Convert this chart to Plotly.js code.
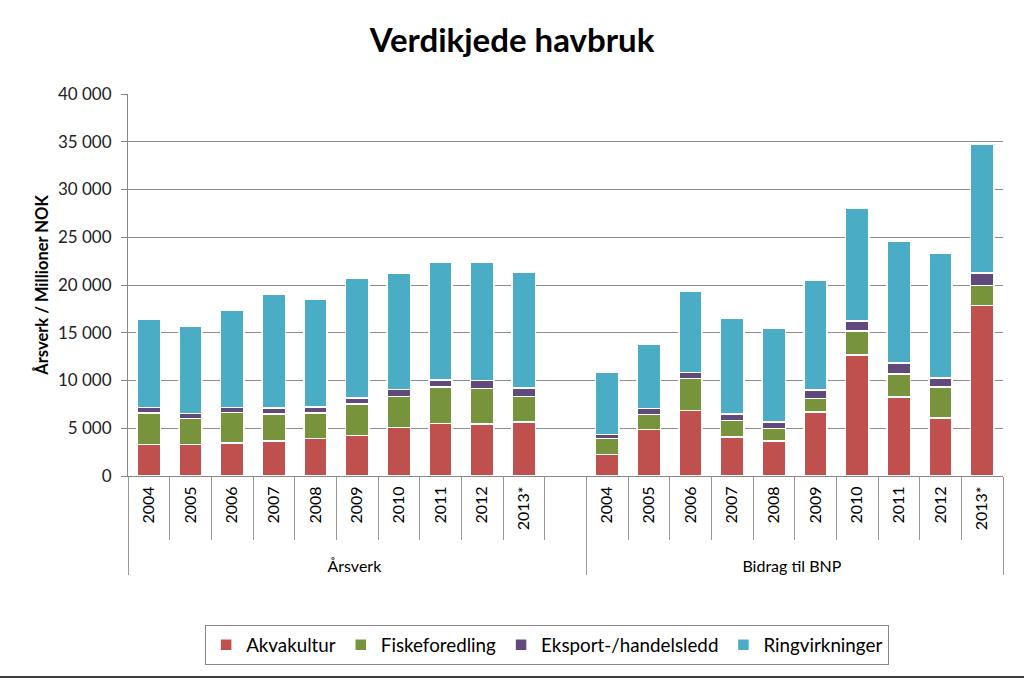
<!DOCTYPE html>
<html>
<head>
<meta charset="utf-8">
<script src="https://cdn.plot.ly/plotly-3.0.1.min.js"></script>
<style>html,body{margin:0;padding:0;background:#fff;}#chart{width:1024px;height:682px;}</style>
</head>
<body>
<div id="chart"></div>
<script>
const groups = ['Årsverk', 'Bidrag til BNP'];
const years = ['2004', '2005', '2006', '2007', '2008', '2009', '2010', '2011', '2012', '2013*'];
const gapLabel = '\u00a0'.repeat(14);
const seriesNames = ['Akvakultur', 'Fiskeforedling', 'Eksport-/handelsledd', 'Ringvirkninger'];
const seriesColors = ['#C0504D', '#77933C', '#604A7B', '#4BACC6'];

// Årsverk
const akvaA = [3290, 3290, 3430, 3640, 3920, 4230, 5100, 5520, 5420, 5630];
const fiskA = [3310, 2720, 3210, 2860, 2680, 3290, 3220, 3780, 3740, 2690];
const eksA  = [570, 530, 530, 630, 640, 660, 740, 730, 840, 880];
const ringA = [9260, 9090, 10170, 11890, 11290, 12520, 12160, 12380, 12410, 12130];
// Bidrag til BNP
const akvaB = [2270, 4860, 6850, 4090, 3670, 6710, 12690, 8250, 6080, 17830];
const fiskB = [1680, 1570, 3360, 1710, 1330, 1400, 2480, 2450, 3260, 2140];
const eksB  = [420, 630, 630, 700, 660, 880, 1050, 1120, 940, 1290];
const ringB = [6540, 6720, 8500, 10040, 9790, 11460, 11780, 12730, 13040, 13530];

const outer = [...years.map(() => groups[0]), groups[0], ...years.map(() => groups[1])];
const inner = [...years, gapLabel, ...years];
const seriesA = [akvaA, fiskA, eksA, ringA];
const seriesB = [akvaB, fiskB, eksB, ringB];

const FONT = 'Lato, "Open Sans", sans-serif';

const traces = seriesNames.map((name, i) => ({
  type: 'bar',
  name: name,
  x: [outer, inner],
  y: [...seriesA[i], null, ...seriesB[i]],
  marker: {color: seriesColors[i], line: {color: '#ffffff', width: 1.5}},
  hoverinfo: 'x+y+name'
}));

const layout = {
  width: 1024, height: 682,
  margin: {l: 128, r: 21, t: 94, b: 206},
  paper_bgcolor: '#ffffff', plot_bgcolor: '#ffffff',
  barmode: 'stack',
  bargap: 0.44,
  separators: ', ',
  font: {family: FONT, color: '#000'},
  title: {
    text: '<b>Verdikjede havbruk</b>',
    font: {family: FONT, size: 33, color: '#000'},
    x: 0.5, xanchor: 'center', y: 1 - 40/682, yanchor: 'middle'
  },
  xaxis: {
    type: 'multicategory',
    tickson: 'boundaries',
    ticks: 'outside', ticklen: 63, tickcolor: '#999', tickwidth: 1,
    tickangle: -90,
    ticklabelstandoff: 3,
    tickfont: {family: FONT, size: 16, color: '#000'},
    showline: true, linecolor: '#888', linewidth: 1,
    showdividers: true, dividercolor: '#999', dividerwidth: 1,
    showgrid: false, zeroline: false
  },
  yaxis: {
    range: [0, 40000], dtick: 5000, tick0: 0,
    tickformat: ',d',
    showgrid: true, gridcolor: '#8c8c8c', gridwidth: 1,
    showline: true, linecolor: '#888', linewidth: 1,
    ticks: 'outside', ticklen: 6, tickcolor: '#888',
    ticklabelstandoff: 6,
    tickfont: {family: FONT, size: 17, color: '#222'},
    zeroline: false,
    title: {text: '<b>Årsverk / Millioner NOK</b>', font: {family: FONT, size: 16.5, color: '#000'}, standoff: 5}
  },
  legend: {
    orientation: 'h', traceorder: 'normal',
    x: 0.479, xanchor: 'center', y: -0.39, yanchor: 'top',
    bordercolor: '#888', borderwidth: 1,
    font: {family: FONT, size: 18.8, color: '#000'},
    itemwidth: 30
  },
  shapes: [{
    type: 'line', xref: 'paper', yref: 'paper',
    x0: -0.2, x1: 1.1, y0: -0.526, y1: -0.526,
    line: {color: '#000', width: 1.5}
  }]
};

Plotly.newPlot('chart', traces, layout, {displayModeBar: false, staticPlot: true});
</script>
</body>
</html>
